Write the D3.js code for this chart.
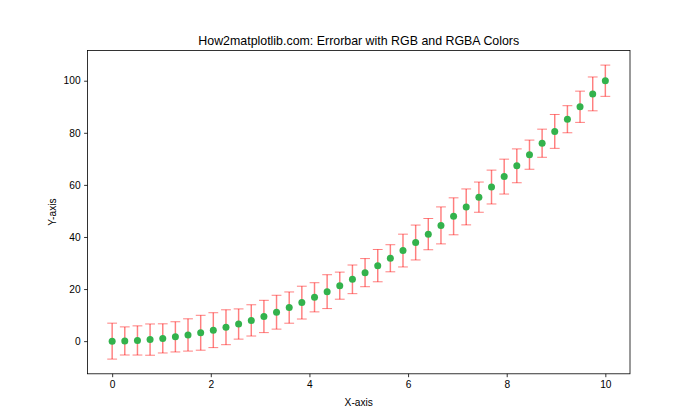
<!DOCTYPE html>
<html>
<head>
<meta charset="utf-8">
<script src="https://cdn.jsdelivr.net/npm/d3@7"></script>
<style>
  body { margin: 0; background: #fff; }
  svg text { font-family: "Liberation Sans", Arial, sans-serif; fill: #000; }
</style>
</head>
<body>
<div id="chart"></div>
<script>
const xValues = [0, 0.256, 0.513, 0.769, 1.026, 1.282, 1.538, 1.795, 2.051, 2.308,
  2.564, 2.821, 3.077, 3.333, 3.590, 3.846, 4.103, 4.359, 4.615, 4.872,
  5.128, 5.385, 5.641, 5.897, 6.154, 6.410, 6.667, 6.923, 7.179, 7.436,
  7.692, 7.949, 8.205, 8.462, 8.718, 8.974, 9.231, 9.487, 9.744, 10];
const yValues = [0, 0.07, 0.26, 0.59, 1.05, 1.64, 2.37, 3.22, 4.21, 5.33,
  6.57, 7.96, 9.47, 11.11, 12.88, 14.79, 16.83, 19.00, 21.30, 23.73,
  26.30, 28.99, 31.82, 34.78, 37.87, 41.09, 44.44, 47.93, 51.54, 55.29,
  59.17, 63.18, 67.32, 71.60, 76.00, 80.53, 85.21, 90.00, 94.94, 100];
const yErrors = [6.9, 5.4, 5.6, 6.0, 5.6, 5.8, 6.2, 6.7, 6.7, 6.7,
  5.8, 6.0, 6.2, 6.5, 6.0, 6.3, 5.6, 6.5, 5.2, 5.5,
  5.4, 6.2, 5.2, 6.3, 6.7, 6.0, 7.1, 7.1, 6.9, 5.8,
  6.5, 6.7, 6.5, 5.6, 5.4, 6.5, 5.2, 6.0, 6.5, 6.0];
const xTicks = [0, 2, 4, 6, 8, 10];
const yTicks = [0, 20, 40, 60, 80, 100];

const width = 700;
const height = 420;
const margin = { left: 87.5, right: 70, top: 50.4, bottom: 46.2 };
const plotW = width - margin.left - margin.right;
const plotH = height - margin.top - margin.bottom;

const points = xValues.map((x, i) => ({ x, y: yValues[i], err: yErrors[i] }));

// matplotlib-style 5% padding
const xMin = d3.min(xValues), xMax = d3.max(xValues);
const yLo = d3.min(points, (d) => d.y - d.err);
const yHi = d3.max(points, (d) => d.y + d.err);
const xPad = (xMax - xMin) * 0.05;
const yPad = (yHi - yLo) * 0.05;

const x = d3.scaleLinear().domain([xMin - xPad, xMax + xPad]).range([0, plotW]);
const y = d3.scaleLinear().domain([yLo - yPad, yHi + yPad]).range([plotH, 0]);

const svg = d3.select("#chart")
  .append("svg")
  .attr("width", width)
  .attr("height", height);

const g = svg.append("g").attr("transform", `translate(${margin.left},${margin.top})`);

// error bars
const barColor = "rgba(255, 0, 0, 0.5)";
const capHalf = 4.9;
const bars = g.append("g").attr("class", "errorbars");
bars.selectAll("line.stem")
  .data(points)
  .join("line")
  .attr("class", "stem")
  .attr("x1", (d) => x(d.x))
  .attr("x2", (d) => x(d.x))
  .attr("y1", (d) => y(d.y - d.err))
  .attr("y2", (d) => y(d.y + d.err))
  .attr("stroke", barColor)
  .attr("stroke-width", 1.46);

["lo", "hi"].forEach((side) => {
  bars.selectAll(`line.cap-${side}`)
    .data(points)
    .join("line")
    .attr("class", `cap-${side}`)
    .attr("x1", (d) => x(d.x) - capHalf)
    .attr("x2", (d) => x(d.x) + capHalf)
    .attr("y1", (d) => y(side === "lo" ? d.y - d.err : d.y + d.err))
    .attr("y2", (d) => y(side === "lo" ? d.y - d.err : d.y + d.err))
    .attr("stroke", barColor)
    .attr("stroke-width", 1);
});

// markers
g.append("g")
  .selectAll("circle")
  .data(points)
  .join("circle")
  .attr("cx", (d) => x(d.x))
  .attr("cy", (d) => y(d.y))
  .attr("r", 3.5)
  .attr("fill", "rgb(51, 178, 76)");

// axes
const xAxis = g.append("g")
  .attr("transform", `translate(0,${plotH})`)
  .call(d3.axisBottom(x).tickValues(xTicks).tickSize(3.4).tickPadding(3.5));
const yAxis = g.append("g")
  .call(d3.axisLeft(y).tickValues(yTicks).tickSize(3.4).tickPadding(3.5));

[xAxis, yAxis].forEach((ax) => {
  ax.select(".domain").remove();
  ax.selectAll(".tick line").attr("stroke", "#000").attr("stroke-width", 0.8);
  ax.selectAll(".tick text").style("font-size", "10.2px").attr("fill", "#000");
});

// frame
g.append("rect")
  .attr("width", plotW)
  .attr("height", plotH)
  .attr("fill", "none")
  .attr("stroke", "#000")
  .attr("stroke-width", 0.8);

// labels
svg.append("text")
  .attr("x", margin.left + plotW / 2)
  .attr("y", 45)
  .attr("text-anchor", "middle")
  .style("font-size", "12.4px")
  .text("How2matplotlib.com: Errorbar with RGB and RGBA Colors");

svg.append("text")
  .attr("x", margin.left + plotW / 2)
  .attr("y", 405.5)
  .attr("text-anchor", "middle")
  .style("font-size", "10.2px")
  .text("X-axis");

svg.append("text")
  .attr("transform", `translate(56,${margin.top + plotH / 2}) rotate(-90)`)
  .attr("text-anchor", "middle")
  .style("font-size", "10.2px")
  .text("Y-axis");
</script>
</body>
</html>
